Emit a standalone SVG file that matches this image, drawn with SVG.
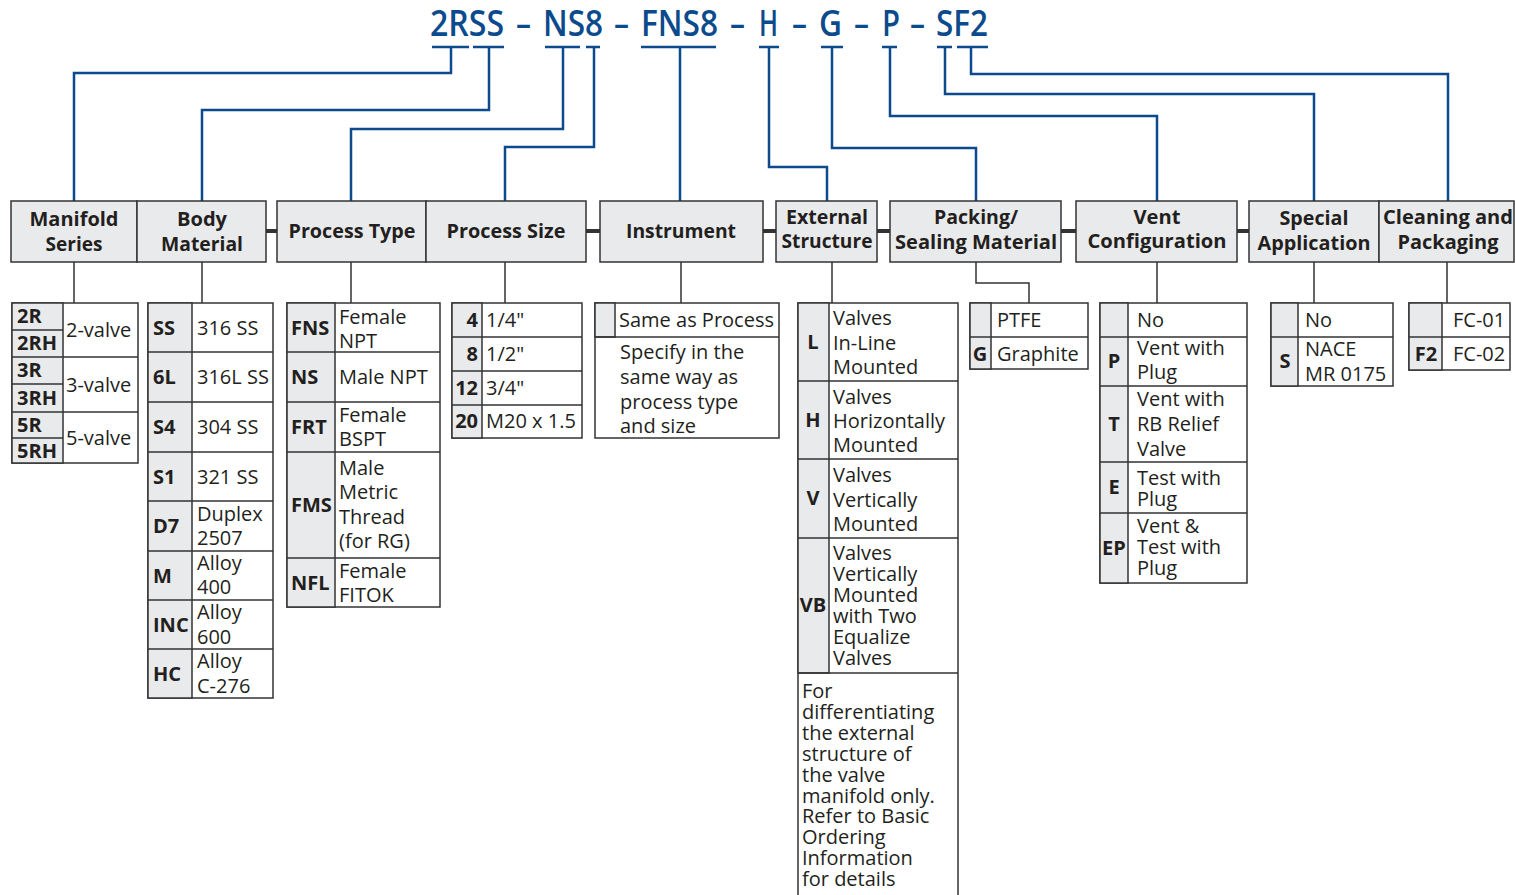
<svg xmlns="http://www.w3.org/2000/svg" width="1515" height="895" viewBox="0 0 1515 895">
<style>
text{font-family:"Open Sans","Liberation Sans",sans-serif;fill:#231f20}
.ttl{font-size:36px;font-weight:600;fill:#0b4a8c}
.h{font-size:20px;font-weight:700;text-anchor:middle}
.t{font-size:20px}
.b{font-size:20px;font-weight:700}
.bc{font-size:20px;font-weight:700;text-anchor:middle}
.br{font-size:20px;font-weight:700;text-anchor:end}
.hdr{fill:#e9eaeb;stroke:#333;stroke-width:1.5}
.cell{fill:#fff;stroke:#333;stroke-width:1.5}
.g{fill:#e9eaeb;stroke:#333;stroke-width:1.5}
.ln{stroke:#333;stroke-width:1.5;fill:none}
.blue{stroke:#0b4a8c;stroke-width:2.5;fill:none}
.bar{stroke:#333;stroke-width:4}
</style>
<rect width="1515" height="895" fill="#fff"/>

<g id="title">
<text class="ttl" x="430" y="36" textLength="74" lengthAdjust="spacingAndGlyphs">2RSS</text>
<text class="ttl" x="516" y="36" textLength="15" lengthAdjust="spacingAndGlyphs">–</text>
<text class="ttl" x="543" y="36" textLength="60" lengthAdjust="spacingAndGlyphs">NS8</text>
<text class="ttl" x="614" y="36" textLength="15" lengthAdjust="spacingAndGlyphs">–</text>
<text class="ttl" x="641" y="36" textLength="77" lengthAdjust="spacingAndGlyphs">FNS8</text>
<text class="ttl" x="730" y="36" textLength="15" lengthAdjust="spacingAndGlyphs">–</text>
<text class="ttl" x="759" y="36" textLength="19" lengthAdjust="spacingAndGlyphs">H</text>
<text class="ttl" x="792" y="36" textLength="15" lengthAdjust="spacingAndGlyphs">–</text>
<text class="ttl" x="819" y="36" textLength="23" lengthAdjust="spacingAndGlyphs">G</text>
<text class="ttl" x="854" y="36" textLength="15" lengthAdjust="spacingAndGlyphs">–</text>
<text class="ttl" x="882" y="36" textLength="18" lengthAdjust="spacingAndGlyphs">P</text>
<text class="ttl" x="910" y="36" textLength="15" lengthAdjust="spacingAndGlyphs">–</text>
<text class="ttl" x="936" y="36" textLength="52" lengthAdjust="spacingAndGlyphs">SF2</text>
</g>

<g id="connectors">
<path class="blue" d="M432,47H469M473,47H504M545,47H580M586,47H600M641,47H716M759,47H779M821,47H843M882,47H897M937,47H952M957,47H988"/>
<path class="blue" d="M451,47V73H74V201"/>
<path class="blue" d="M489,47V110H202V201"/>
<path class="blue" d="M563,47V129H351V201"/>
<path class="blue" d="M594,47V147H505V201"/>
<path class="blue" d="M680,47V201"/>
<path class="blue" d="M769,47V167H827V201"/>
<path class="blue" d="M832,47V148H976V201"/>
<path class="blue" d="M890,47V116H1157V201"/>
<path class="blue" d="M945,47V94H1314V201"/>
<path class="blue" d="M971,47V74H1448V201"/>
<path class="bar" d="M266,231H277M586,231H600M763,231H776M877,231H890M1061,231H1076M1237,231H1249"/>
<path class="ln" d="M74,262V303M202,262V303M351,262V303M505,262V303M681,262V303M832,262V303M976,262V283H1029V303M1157,262V303M1314,262V303M1447,262V303"/>
</g>

<g id="hdr-manifold"><rect class="hdr" x="11" y="201" width="126" height="61"/>
<text class="h" x="74" y="226" textLength="89" lengthAdjust="spacingAndGlyphs">Manifold</text><text class="h" x="74" y="251" textLength="57" lengthAdjust="spacingAndGlyphs">Series</text></g>
<g id="hdr-body"><rect class="hdr" x="137" y="201" width="129" height="61"/>
<text class="h" x="202" y="226" textLength="50" lengthAdjust="spacingAndGlyphs">Body</text><text class="h" x="202" y="251" textLength="82" lengthAdjust="spacingAndGlyphs">Material</text></g>
<g id="hdr-ptype"><rect class="hdr" x="277" y="201" width="149" height="61"/>
<text class="h" x="352" y="238" textLength="127" lengthAdjust="spacingAndGlyphs">Process Type</text></g>
<g id="hdr-psize"><rect class="hdr" x="426" y="201" width="160" height="61"/>
<text class="h" x="506" y="238" textLength="119" lengthAdjust="spacingAndGlyphs">Process Size</text></g>
<g id="hdr-instrument"><rect class="hdr" x="600" y="201" width="163" height="61"/>
<text class="h" x="681" y="238" textLength="110" lengthAdjust="spacingAndGlyphs">Instrument</text></g>
<g id="hdr-external"><rect class="hdr" x="776" y="201" width="101" height="61"/>
<text class="h" x="827" y="224" textLength="82" lengthAdjust="spacingAndGlyphs">External</text><text class="h" x="827" y="248" textLength="91" lengthAdjust="spacingAndGlyphs">Structure</text></g>
<g id="hdr-packing"><rect class="hdr" x="890" y="201" width="171" height="61"/>
<text class="h" x="976" y="224" textLength="84" lengthAdjust="spacingAndGlyphs">Packing/</text><text class="h" x="976" y="249" textLength="162" lengthAdjust="spacingAndGlyphs">Sealing Material</text></g>
<g id="hdr-vent"><rect class="hdr" x="1076" y="201" width="161" height="61"/>
<text class="h" x="1157" y="224" textLength="47" lengthAdjust="spacingAndGlyphs">Vent</text><text class="h" x="1157" y="248" textLength="139" lengthAdjust="spacingAndGlyphs">Configuration</text></g>
<g id="hdr-special"><rect class="hdr" x="1249" y="201" width="130" height="61"/>
<text class="h" x="1314" y="225" textLength="69" lengthAdjust="spacingAndGlyphs">Special</text><text class="h" x="1314" y="250" textLength="113" lengthAdjust="spacingAndGlyphs">Application</text></g>
<g id="hdr-cleaning"><rect class="hdr" x="1379" y="201" width="135" height="61"/>
<text class="h" x="1448" y="224" textLength="130" lengthAdjust="spacingAndGlyphs">Cleaning and</text><text class="h" x="1448" y="249" textLength="101" lengthAdjust="spacingAndGlyphs">Packaging</text></g>

<g id="tbl-manifold">
<rect class="cell" x="12" y="303" width="126" height="160"/>
<rect class="g" x="12" y="303" width="51" height="160"/>
<path class="ln" d="M12,330H63M12,384H63M12,438H63M12,357H138M12,412H138"/>
<text class="b" x="17" y="323">2R</text><text class="b" x="17" y="350">2RH</text>
<text class="b" x="17" y="377">3R</text><text class="b" x="17" y="405">3RH</text>
<text class="b" x="17" y="432">5R</text><text class="b" x="17" y="458">5RH</text>
<text class="t" x="66" y="337">2-valve</text><text class="t" x="66" y="392">3-valve</text><text class="t" x="66" y="445">5-valve</text>
</g>

<g id="tbl-body">
<rect class="cell" x="148" y="303" width="125" height="395"/>
<rect class="g" x="148" y="303" width="44" height="395"/>
<path class="ln" d="M148,352H273M148,402H273M148,452H273M148,501H273M148,551H273M148,600H273M148,649H273"/>
<text class="b" x="153" y="335">SS</text><text class="t" x="197" y="335">316 SS</text>
<text class="b" x="153" y="384">6L</text><text class="t" x="197" y="384">316L SS</text>
<text class="b" x="153" y="434">S4</text><text class="t" x="197" y="434">304 SS</text>
<text class="b" x="153" y="484">S1</text><text class="t" x="197" y="484">321 SS</text>
<text class="b" x="153" y="533">D7</text><text class="t" x="197" y="521">Duplex</text><text class="t" x="197" y="545">2507</text>
<text class="b" x="153" y="583">M</text><text class="t" x="197" y="570">Alloy</text><text class="t" x="197" y="594">400</text>
<text class="b" x="153" y="632">INC</text><text class="t" x="197" y="619">Alloy</text><text class="t" x="197" y="644">600</text>
<text class="b" x="153" y="681">HC</text><text class="t" x="197" y="668">Alloy</text><text class="t" x="197" y="693">C-276</text>
</g>

<g id="tbl-ptype">
<rect class="cell" x="287" y="303" width="153" height="304"/>
<rect class="g" x="287" y="303" width="48" height="304"/>
<path class="ln" d="M287,352H440M287,402H440M287,452H440M287,558H440"/>
<text class="b" x="291" y="335">FNS</text><text class="t" x="339" y="324">Female</text><text class="t" x="339" y="348">NPT</text>
<text class="b" x="291" y="384">NS</text><text class="t" x="339" y="384">Male NPT</text>
<text class="b" x="291" y="434">FRT</text><text class="t" x="339" y="422">Female</text><text class="t" x="339" y="446">BSPT</text>
<text class="b" x="291" y="512">FMS</text><text class="t" x="339" y="475">Male</text><text class="t" x="339" y="499">Metric</text><text class="t" x="339" y="524">Thread</text><text class="t" x="339" y="548">(for RG)</text>
<text class="b" x="291" y="590">NFL</text><text class="t" x="339" y="578">Female</text><text class="t" x="339" y="602">FITOK</text>
</g>

<g id="tbl-psize">
<rect class="cell" x="452" y="303" width="130" height="135"/>
<rect class="g" x="452" y="303" width="30" height="135"/>
<path class="ln" d="M452,337H582M452,371H582M452,405H582"/>
<text class="br" x="478" y="327">4</text><text class="t" x="486" y="327">1/4"</text>
<text class="br" x="478" y="361">8</text><text class="t" x="486" y="361">1/2"</text>
<text class="br" x="478" y="395">12</text><text class="t" x="486" y="395">3/4"</text>
<text class="br" x="478" y="428">20</text><text class="t" x="486" y="428">M20 x 1.5</text>
</g>

<g id="tbl-instrument">
<rect class="cell" x="595" y="303" width="184" height="135"/>
<rect class="g" x="595" y="303" width="20" height="34"/>
<path class="ln" d="M595,337H779"/>
<text class="t" x="619" y="327">Same as Process</text>
<text class="t" x="620" y="359">Specify in the</text><text class="t" x="620" y="384">same way as</text>
<text class="t" x="620" y="409">process type</text><text class="t" x="620" y="433">and size</text>
</g>

<g id="tbl-external">
<rect class="cell" x="798" y="303" width="160" height="600"/>
<rect class="g" x="798" y="303" width="31" height="370"/>
<path class="ln" d="M798,381H958M798,459H958M798,538H958M798,673H958"/>
<text class="bc" x="813" y="349">L</text><text class="t" x="833" y="325">Valves</text><text class="t" x="833" y="350">In-Line</text><text class="t" x="833" y="374">Mounted</text>
<text class="bc" x="813" y="427">H</text><text class="t" x="833" y="404">Valves</text><text class="t" x="833" y="428">Horizontally</text><text class="t" x="833" y="452">Mounted</text>
<text class="bc" x="813" y="505">V</text><text class="t" x="833" y="482">Valves</text><text class="t" x="833" y="507">Vertically</text><text class="t" x="833" y="531">Mounted</text>
<text class="bc" x="813" y="612">VB</text><text class="t" x="833" y="560">Valves</text><text class="t" x="833" y="581">Vertically</text><text class="t" x="833" y="602">Mounted</text><text class="t" x="833" y="623">with Two</text><text class="t" x="833" y="644">Equalize</text><text class="t" x="833" y="665">Valves</text>
<text class="t" x="802" y="698">For</text><text class="t" x="802" y="719">differentiating</text><text class="t" x="802" y="740">the external</text><text class="t" x="802" y="761">structure of</text><text class="t" x="802" y="782">the valve</text><text class="t" x="802" y="803">manifold only.</text><text class="t" x="802" y="823">Refer to Basic</text><text class="t" x="802" y="844">Ordering</text><text class="t" x="802" y="865">Information</text><text class="t" x="802" y="886">for details</text>
</g>

<g id="tbl-packing">
<rect class="cell" x="970" y="303" width="118" height="66"/>
<rect class="g" x="970" y="303" width="21" height="66"/>
<path class="ln" d="M970,337H1088"/>
<text class="t" x="997" y="327">PTFE</text>
<text class="bc" x="980" y="361">G</text><text class="t" x="997" y="361">Graphite</text>
</g>

<g id="tbl-vent">
<rect class="cell" x="1100" y="303" width="147" height="280"/>
<rect class="g" x="1100" y="303" width="28" height="280"/>
<path class="ln" d="M1100,337H1247M1100,386H1247M1100,462H1247M1100,513H1247"/>
<text class="t" x="1137" y="327">No</text>
<text class="bc" x="1114" y="368">P</text><text class="t" x="1137" y="355">Vent with</text><text class="t" x="1137" y="379">Plug</text>
<text class="bc" x="1114" y="431">T</text><text class="t" x="1137" y="406">Vent with</text><text class="t" x="1137" y="431">RB Relief</text><text class="t" x="1137" y="456">Valve</text>
<text class="bc" x="1114" y="494">E</text><text class="t" x="1137" y="485">Test with</text><text class="t" x="1137" y="506">Plug</text>
<text class="bc" x="1114" y="555">EP</text><text class="t" x="1137" y="533">Vent &amp;</text><text class="t" x="1137" y="554">Test with</text><text class="t" x="1137" y="575">Plug</text>
</g>

<g id="tbl-special">
<rect class="cell" x="1271" y="303" width="122" height="83"/>
<rect class="g" x="1271" y="303" width="27" height="83"/>
<path class="ln" d="M1271,337H1393"/>
<text class="t" x="1305" y="327">No</text>
<text class="bc" x="1285" y="368">S</text><text class="t" x="1305" y="356">NACE</text><text class="t" x="1305" y="381">MR 0175</text>
</g>

<g id="tbl-cleaning">
<rect class="cell" x="1409" y="303" width="101" height="67"/>
<rect class="g" x="1409" y="303" width="33" height="67"/>
<path class="ln" d="M1409,337H1510"/>
<text class="t" x="1453" y="327">FC-01</text>
<text class="bc" x="1426" y="361">F2</text><text class="t" x="1453" y="361">FC-02</text>
</g>
</svg>
